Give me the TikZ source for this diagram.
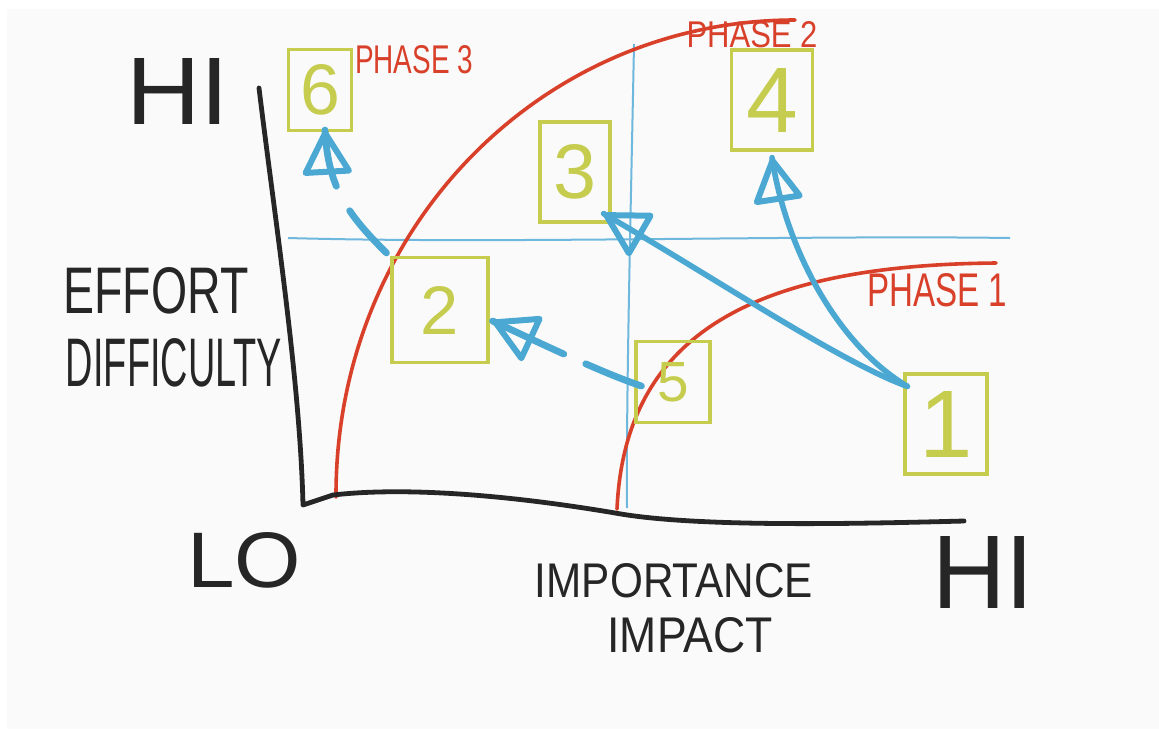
\documentclass[tikz,border=0pt]{standalone}
\usepackage{fontspec}
\setmainfont{Liberation Sans}
\usepackage{graphicx}
\usetikzlibrary{arrows.meta,calc,decorations.markings}
\definecolor{inkblack}{HTML}{262626}
\definecolor{inkred}{HTML}{D8402A}
\definecolor{inkblue}{HTML}{4AA8D2}
\definecolor{gridblue}{HTML}{6DB8DC}
\definecolor{boxgreen}{HTML}{C5CC4E}
\definecolor{board}{HTML}{FAFAFA}
\begin{document}
\begin{tikzpicture}[x=0.5pt,y=-0.5pt,
  box/.style={draw=boxgreen,line width=1.6pt,text=boxgreen,inner sep=0pt},
  lab/.style={inner sep=0pt,text=inkblack},
  phaselab/.style={inner sep=0pt,text=inkred},
  axisline/.style={draw=inkblack,line width=2.4pt,line cap=round,line join=round},
  phasecurve/.style={draw=inkred,line width=1.8pt,line cap=round},
  gridline/.style={draw=gridblue,line width=1pt},
  flow/.style={draw=inkblue,line width=2.8pt,line cap=round},
  flowdash/.style={flow,line width=3.4pt},
  headtip/.style={decoration={markings,mark=at position 1 with {\arrow[solid,line width=3pt,inkblue]{Triangle[open,length=24pt,width=26pt,round]}}},postaction={decorate}},
]
\useasboundingbox (0,0) rectangle (1159,729);
\fill[white] (0,0) rectangle (1159,729);
\fill[board] (7,9) rectangle (1159,729);

% quadrant lines
\draw[gridline] (288,238) .. controls (500,244) and (800,235) .. (1010,238);
\draw[gridline] (634,44) .. controls (631,200) and (626,400) .. (627,508);

% phase curves
\draw[phasecurve] (336,497) .. controls (335,230) and (540,20) .. (795,20);
\draw[phasecurve] (617,509) .. controls (625,330) and (760,265) .. (996,263);

% axes
\draw[axisline] (259,88) .. controls (275,220) and (300,380) .. (303,505) -- (333,495)
  .. controls (420,485) and (540,500) .. (621,514) .. controls (700,527) and (850,524) .. (964,521);

% boxes
\node[box,minimum width=31.5pt,minimum height=40.5pt] (b6) at (320,90) {\resizebox{!}{25pt}{6}};
\node[box,minimum width=35pt,minimum height=50pt] (b3) at (575,172) {\resizebox{!}{27pt}{3}};
\node[box,minimum width=40.5pt,minimum height=50pt] (b4) at (772,100) {\resizebox{!}{32pt}{4}};
\node[box,minimum width=48pt,minimum height=52.5pt] (b2) at (440,310) {\resizebox{!}{24pt}{2}};
\node[box,minimum width=37pt,minimum height=40.5pt] (b5) at (673,382) {\resizebox{!}{19.5pt}{5}};
\node[box,minimum width=41pt,minimum height=50pt] (b1) at (946,424) {\resizebox{!}{33pt}{1}};

% labels
\node[lab] (hiy) at (178,91) {\resizebox{51.5pt}{33pt}{HI}};
\node[lab] (effort) at (156,291) {\resizebox{92.5pt}{23pt}{EFFORT}};
\node[lab] (difficulty) at (174,363) {\resizebox{108pt}{24pt}{DIFFICULTY}};
\node[lab] (lo) at (244,560) {\resizebox{57pt}{27.5pt}{LO}};
\node[lab] (importance) at (674,581) {\resizebox{139pt}{17pt}{IMPORTANCE}};
\node[lab] (impact) at (690,635) {\resizebox{82.5pt}{17.5pt}{IMPACT}};
\node[lab] (hix) at (983,572) {\resizebox{51pt}{36pt}{HI}};
\node[phaselab] (p3) at (414,60) {\resizebox{59pt}{14pt}{PHASE 3}};
\node[phaselab] (p2) at (752,35) {\resizebox{65.5pt}{13pt}{PHASE 2}};
\node[phaselab] (p1) at (937,290) {\resizebox{70pt}{16.5pt}{PHASE 1}};

% connectors
\draw[flow,headtip] ($(b1.north west)+(4,14)$) .. controls (840,362) and (715,278) .. ($(b3.south east)+(-8,-10)$);
\draw[flow,headtip] ($(b1.north west)+(4,14)$) .. controls (838,345) and (786,250) .. ($(b4.south)+(0,6)$);
\draw[flowdash,dash pattern=on 30pt off 12pt on 200pt off 1pt,headtip] ($(b5.west)+(7,4)$) .. controls (600,372) and (540,343) .. ($(b2.east)+(3,11)$);
\draw[flowdash,dash pattern=on 28pt off 14pt on 200pt off 1pt,headtip] ($(b2.north west)+(-4,-3)$) .. controls (345,212) and (328,185) .. ($(b6.south)+(5,-2)$);
\end{tikzpicture}
\end{document}
